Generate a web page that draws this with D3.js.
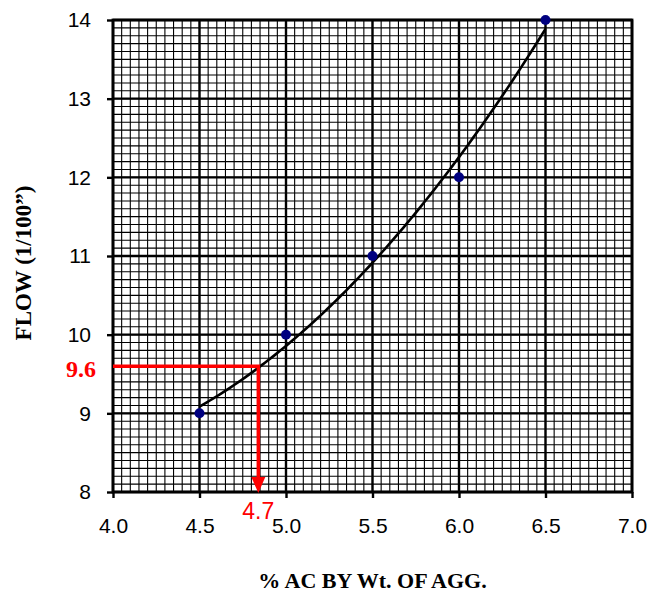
<!DOCTYPE html>
<html>
<head>
<meta charset="utf-8">
<script src="https://cdn.jsdelivr.net/npm/d3@7"></script>
<style>
  body { margin: 0; background: #fff; }
  svg { display: block; }
</style>
</head>
<body>
<svg id="chart"></svg>
<script>
// data
const acPercent = [4.5, 5.0, 5.5, 6.0, 6.5];
const flowValues = [9, 10, 11, 12, 14];
const xTicks = [4.0, 4.5, 5.0, 5.5, 6.0, 6.5, 7.0];
const yTicks = [8, 9, 10, 11, 12, 13, 14];
// design read-off annotation
const designFlow = 9.6;
const designAC = 4.84;
const designLabel = "4.7";

// 2nd order least squares trendline, like the spreadsheet one
function quadFit(xs, ys) {
    let n = xs.length, sx = 0, sx2 = 0, sx3 = 0, sx4 = 0, sy = 0, sxy = 0, sx2y = 0;
    xs.forEach((x, i) => {
        let y = ys[i];
        sx += x; sx2 += x * x; sx3 += x ** 3; sx4 += x ** 4;
        sy += y; sxy += x * y; sx2y += x * x * y;
    });
    // solve normal equations with Cramer's rule
    let m = [[n, sx, sx2], [sx, sx2, sx3], [sx2, sx3, sx4]];
    let r = [sy, sxy, sx2y];
    const det = a => a[0][0] * (a[1][1] * a[2][2] - a[1][2] * a[2][1])
        - a[0][1] * (a[1][0] * a[2][2] - a[1][2] * a[2][0])
        + a[0][2] * (a[1][0] * a[2][1] - a[1][1] * a[2][0]);
    let d = det(m);
    let coef = [0, 1, 2].map(k => det(m.map((row, i) => row.map((v, j) => j === k ? r[i] : v))) / d);
    return x => coef[0] + coef[1] * x + coef[2] * x * x;
}

const width = 651, height = 595;
const margin = {left: 113, right: 632, top: 20, bottom: 492};

const svg = d3.select("#chart")
    .attr("width", width)
    .attr("height", height);

const x = d3.scaleLinear().domain([4, 7]).range([margin.left, margin.right]);
const y = d3.scaleLinear().domain([8, 14]).range([margin.bottom, margin.top]);

// minor grid
const grid = svg.append("g").attr("class", "grid");
grid.selectAll("line.vminor")
    .data(d3.range(0, 61).map(i => 4 + i * 0.05))
    .enter().append("line")
    .attr("x1", d => x(d)).attr("x2", d => x(d))
    .attr("y1", margin.top).attr("y2", margin.bottom)
    .attr("stroke", "#000").attr("stroke-width", 1.1);
grid.selectAll("line.hminor")
    .data(d3.range(0, 61).map(i => 8 + i * 0.1))
    .enter().append("line")
    .attr("x1", margin.left).attr("x2", margin.right)
    .attr("y1", d => y(d)).attr("y2", d => y(d))
    .attr("stroke", "#000").attr("stroke-width", 1.1);

// major grid
grid.selectAll("line.vmajor")
    .data(xTicks)
    .enter().append("line")
    .attr("x1", d => x(d)).attr("x2", d => x(d))
    .attr("y1", margin.top).attr("y2", margin.bottom)
    .attr("stroke", "#000").attr("stroke-width", 2.4);
grid.selectAll("line.hmajor")
    .data(yTicks)
    .enter().append("line")
    .attr("x1", margin.left).attr("x2", margin.right)
    .attr("y1", d => y(d)).attr("y2", d => y(d))
    .attr("stroke", "#000").attr("stroke-width", 2.4);

// frame
svg.append("rect")
    .attr("x", margin.left).attr("y", margin.top)
    .attr("width", margin.right - margin.left).attr("height", margin.bottom - margin.top)
    .attr("fill", "none").attr("stroke", "#000").attr("stroke-width", 2.8);

// axes
const xAxis = d3.axisBottom(x).tickValues(xTicks).tickFormat(d3.format(".1f")).tickSize(6).tickPadding(20);
const yAxis = d3.axisLeft(y).tickValues(yTicks).tickFormat(d3.format("d")).tickSize(6).tickPadding(16);

const gx = svg.append("g").attr("transform", `translate(0,${margin.bottom})`).call(xAxis);
const gy = svg.append("g").attr("transform", `translate(${margin.left},0)`).call(yAxis);
[gx, gy].forEach(g => {
    g.select(".domain").remove();
    g.selectAll(".tick line").attr("stroke", "#000").attr("stroke-width", 2.4);
    g.selectAll(".tick text")
        .attr("fill", "#000")
        .style("font-family", "Arial, 'Liberation Sans', sans-serif")
        .style("font-size", "21px");
});

// trendline
const fit = quadFit(acPercent, flowValues);
const curveX = d3.range(0, 101).map(i => 4.5 + i * 0.02);
svg.append("path")
    .datum(curveX)
    .attr("fill", "none")
    .attr("stroke", "#000")
    .attr("stroke-width", 2.6)
    .attr("d", d3.line().x(d => x(d)).y(d => y(fit(d))));

// points
svg.selectAll("circle.pt")
    .data(acPercent.map((d, i) => ({ac: d, flow: flowValues[i]})))
    .enter().append("circle")
    .attr("cx", d => x(d.ac))
    .attr("cy", d => y(d.flow))
    .attr("r", 5)
    .attr("fill", "#000080");

// red read-off lines
const red = "#ff0000";
svg.append("polyline")
    .attr("points", `${x(4)},${y(designFlow)} ${x(designAC)},${y(designFlow)} ${x(designAC)},${y(8) - 14}`)
    .attr("fill", "none")
    .attr("stroke", red)
    .attr("stroke-width", 3.5);
svg.append("path")
    .attr("d", `M${x(designAC) - 7},${y(8) - 15} L${x(designAC) + 7},${y(8) - 15} L${x(designAC)},${y(8) + 1} Z`)
    .attr("fill", red);

svg.append("text")
    .attr("x", 96).attr("y", y(designFlow) + 11)
    .attr("text-anchor", "end")
    .attr("fill", red)
    .style("font-family", "'Times New Roman', 'Liberation Serif', serif")
    .style("font-weight", "bold")
    .style("font-size", "24px")
    .text(designFlow.toFixed(1));

svg.append("text")
    .attr("x", x(designAC)).attr("y", 519)
    .attr("text-anchor", "middle")
    .attr("fill", red)
    .style("font-family", "Arial, 'Liberation Sans', sans-serif")
    .style("font-size", "23px")
    .text(designLabel);

// axis titles
svg.append("text")
    .attr("x", (margin.left + margin.right) / 2).attr("y", 588)
    .attr("text-anchor", "middle")
    .style("font-family", "'Times New Roman', 'Liberation Serif', serif")
    .style("font-weight", "bold")
    .style("font-size", "22px")
    .text("% AC BY Wt. OF AGG.");

svg.append("text")
    .attr("transform", `translate(31,${(margin.top + margin.bottom) / 2 + 7}) rotate(-90)`)
    .attr("text-anchor", "middle")
    .style("font-family", "'Times New Roman', 'Liberation Serif', serif")
    .style("font-weight", "bold")
    .style("font-size", "23px")
    .text("FLOW (1/100\u201D)");
</script>
</body>
</html>
